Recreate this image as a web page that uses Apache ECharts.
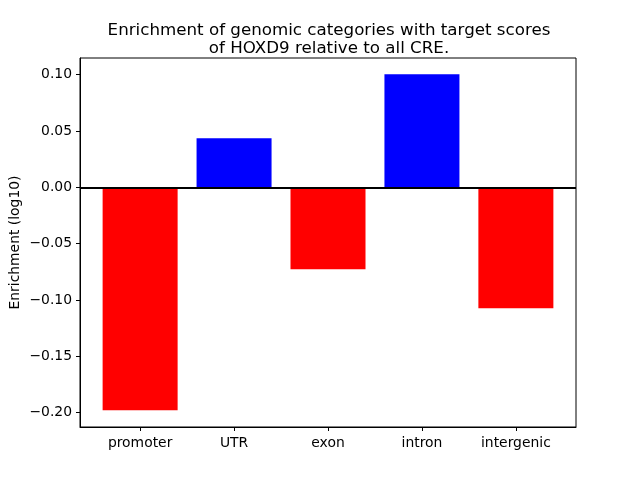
<!DOCTYPE html>
<html>
<head>
<meta charset="utf-8">
<script src="https://cdn.jsdelivr.net/npm/echarts@6/dist/echarts.min.js"></script>
<style>html,body{margin:0;padding:0;background:#fff}#c{width:640px;height:480px}</style>
</head>
<body>
<div id="c"></div>
<script>
const categories = ['promoter', 'UTR', 'exon', 'intron', 'intergenic'];
const values = [-0.198, 0.0435, -0.0728, 0.1003, -0.1074];
const yTicks = [-0.20, -0.15, -0.10, -0.05, 0.00, 0.05, 0.10];
const xTicks = [0, 1, 2, 3, 4];

const font = 'DejaVu Sans';
const chart = echarts.init(document.getElementById('c'), null, {renderer: 'canvas'});
chart.setOption({
  animation: false,
  backgroundColor: '#fff',
  title: {
    text: 'Enrichment of genomic categories with target scores\nof HOXD9 relative to all CRE.',
    left: 324, top: 17, textAlign: 'center',
    textStyle: {fontFamily: font, fontSize: 16.7, fontWeight: 'normal', color: '#000', lineHeight: 18}
  },
  grid: {left: 80, right: 64, top: 58, bottom: 53, outerBoundsMode: 'none', containLabel: false, show: true, borderColor: '#000', borderWidth: 1, backgroundColor: 'transparent'},
  xAxis: {
    type: 'value', min: -0.64, max: 4.64,
    splitLine: {show: false},
    axisLine: {show: true, onZero: false, lineStyle: {color: '#000', width: 1}},
    axisTick: {show: true, length: 4, lineStyle: {color: '#000', width: 1}, customValues: xTicks},
    axisLabel: {customValues: xTicks, formatter: v => categories[Math.round(v)], color: '#000', fontFamily: font, fontSize: 13.9, margin: 9}
  },
  yAxis: {
    type: 'value', min: -0.2128, max: 0.1148,
    name: 'Enrichment (log10)', nameLocation: 'middle', nameGap: 58, nameMoveOverlap: false,
    nameTextStyle: {fontFamily: font, fontSize: 13.9, color: '#000'},
    splitLine: {show: false},
    axisLine: {show: true, onZero: false, lineStyle: {color: '#000', width: 1}},
    axisTick: {show: true, length: 4, lineStyle: {color: '#000', width: 1}, customValues: yTicks},
    axisLabel: {customValues: yTicks, formatter: v => v.toFixed(2).replace('-', '\u2212'), color: '#000', fontFamily: font, fontSize: 13.9, margin: 8}
  },
  series: [{
    type: 'bar',
    barWidth: 75,
    data: values.map((v, i) => [i, v]),
    itemStyle: {color: p => p.value[1] >= 0 ? '#0000ff' : '#ff0000'},
    markLine: {
      silent: true, symbol: 'none', label: {show: false},
      lineStyle: {color: '#000', width: 1.8, type: 'solid'},
      data: [{yAxis: 0}]
    }
  }]
});
</script>
</body>
</html>
